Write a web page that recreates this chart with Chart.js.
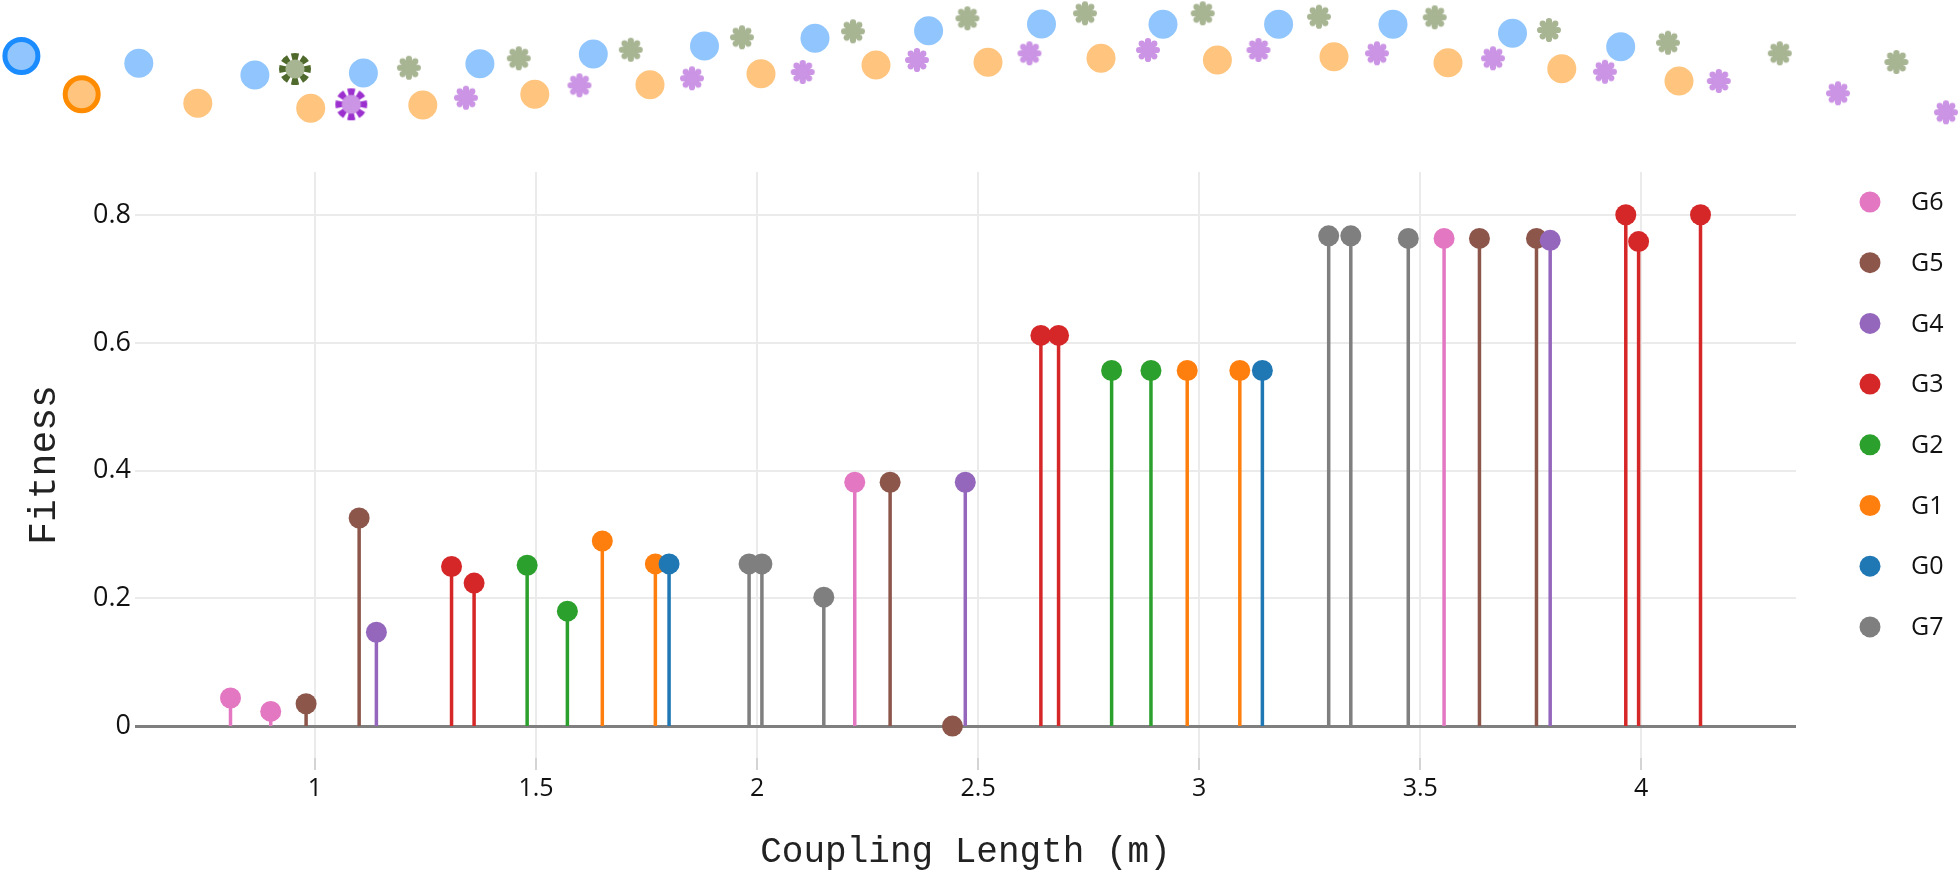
<!DOCTYPE html>
<html>
<head>
<meta charset="utf-8">
<script src="https://cdn.jsdelivr.net/npm/chart.js@4"></script>
<style>
  html, body { margin: 0; padding: 0; background: #fff; }
  #wrap { position: relative; width: 1960px; height: 874px; }
  #main, #deco { position: absolute; left: 0; top: 0; }
</style>
</head>
<body>
<div id="wrap">
  <canvas id="main" width="1960" height="874"></canvas>
  <canvas id="deco" width="1960" height="140"></canvas>
</div>
<script>
// series, in legend order
const names = ["G6", "G5", "G4", "G3", "G2", "G1", "G0", "G7"];
const colors = ["#e377c2", "#8c564b", "#9467bd", "#d62728", "#2ca02c", "#ff7f0e", "#1f77b4", "#7f7f7f"];

const g6x = [0.809, 0.900, 2.221, 3.554];
const g6y = [0.044, 0.023, 0.382, 0.764];
const g5x = [0.980, 1.100, 2.301, 2.442, 3.634, 3.763];
const g5y = [0.035, 0.326, 0.382, 0, 0.764, 0.764];
const g4x = [1.139, 2.471, 3.794];
const g4y = [0.147, 0.382, 0.761];
const g3x = [1.309, 1.360, 2.642, 2.682, 3.965, 3.994, 4.134];
const g3y = [0.250, 0.224, 0.612, 0.612, 0.801, 0.759, 0.801];
const g2x = [1.480, 1.571, 2.802, 2.891];
const g2y = [0.252, 0.180, 0.557, 0.557];
const g1x = [1.650, 1.770, 2.973, 3.092];
const g1y = [0.290, 0.254, 0.557, 0.557];
const g0x = [1.801, 3.143];
const g0y = [0.254, 0.557];
const g7x = [1.982, 2.011, 2.151, 3.293, 3.343, 3.473];
const g7y = [0.254, 0.254, 0.202, 0.768, 0.768, 0.764];

const xTicks = [1, 1.5, 2, 2.5, 3, 3.5, 4];
const yTicks = [0, 0.2, 0.4, 0.6, 0.8];

// decorative strip above the plot
const blueX = [138.8, 254.9, 363.4, 479.9, 593.3, 704.5, 815, 928.6, 1041.5, 1163, 1278.6, 1393, 1512.5, 1620.7];
const blueY = [63.3, 75, 73, 63.7, 54, 46, 38.3, 30.7, 24, 24.3, 24.3, 24.3, 33.3, 46.7];
const orangeX = [197.8, 310.7, 422.8, 534.8, 650, 761, 876, 988, 1101, 1217.4, 1334, 1448, 1561.8, 1679];
const orangeY = [103.3, 108.3, 105, 94.3, 84.7, 73.7, 65, 62.3, 58.3, 60, 56.7, 62.7, 68.7, 81];
const greenX = [408.9, 518.8, 630.8, 742, 853, 967.4, 1085, 1202.7, 1319, 1434.7, 1549, 1668, 1779.8, 1896.4];
const greenY = [67.7, 58.3, 49.7, 37.3, 31.3, 18.3, 13.3, 13.3, 16.7, 17.3, 30, 42.7, 53.3, 62];
const purpleX = [466, 579.5, 692, 802.7, 917, 1029.5, 1148, 1258.5, 1377, 1493, 1605, 1718.8, 1838, 1946];
const purpleY = [97.7, 85.3, 78.3, 72, 60, 53.3, 50, 50, 53.3, 58.3, 71.7, 81, 93.3, 112.3];
const leadBlue = [21.4, 56];
const leadOrange = [81.7, 94.3];
const leadGreen = [295, 69];
const leadPurple = [351.3, 104.3];

const seriesX = [g6x, g5x, g4x, g3x, g2x, g1x, g0x, g7x];
const seriesY = [g6y, g5y, g4y, g3y, g2y, g1y, g0y, g7y];

// each value becomes base point, top point, gap -> a stem
function stems(xs, ys) {
  const out = [];
  xs.forEach((x, i) => {
    out.push({ x, y: 0 }, { x, y: ys[i] }, { x, y: null });
  });
  return out;
}

const datasets = names.map((n, i) => ({
  label: n,
  data: stems(seriesX[i], seriesY[i]),
  showLine: true,
  spanGaps: false,
  borderColor: colors[i],
  backgroundColor: colors[i],
  borderWidth: 3.5,
  pointBorderWidth: 0,
  pointRadius: c => c.dataIndex % 3 === 1 ? 10.5 : 0,
  pointHoverRadius: c => c.dataIndex % 3 === 1 ? 10.5 : 0,
  order: names.length - i
}));

const legendPlugin = {
  id: "sideLegend",
  afterDraw(chart) {
    const ctx = chart.ctx;
    ctx.save();
    ctx.font = "25px 'Open Sans'";
    ctx.textBaseline = "middle";
    chart.data.datasets.forEach((d, i) => {
      const y = 202 + i * 60.7;
      ctx.fillStyle = d.backgroundColor;
      ctx.beginPath();
      ctx.arc(1870, y, 10.5, 0, Math.PI * 2);
      ctx.fill();
      ctx.fillStyle = "#111";
      ctx.fillText(d.label, 1911, y + 1);
    });
    ctx.restore();
  }
};

new Chart(document.getElementById("main"), {
  type: "scatter",
  data: { datasets },
  options: {
    responsive: false,
    animation: false,
    events: [],
    layout: { padding: { left: 0, right: 164, top: 172, bottom: 0 } },
    plugins: { legend: { display: false }, tooltip: { enabled: false } },
    scales: {
      x: {
        type: "linear",
        min: 0.593,
        max: 4.35,
        afterBuildTicks: s => { s.ticks = xTicks.map(v => ({ value: v })); },
        afterFit: s => { s.height = 116; },
        border: { display: false },
        grid: { color: "#ebebeb", lineWidth: 2, tickLength: 12, tickColor: "#d4d4d4" },
        ticks: {
          autoSkip: false, maxRotation: 0, padding: 4, color: "#111",
          font: { family: "'Open Sans'", size: 25 },
          callback: v => String(v)
        },
        title: {
          display: true, text: "Coupling Length (m)", color: "#222",
          font: { family: "'Liberation Mono'", size: 36 },
          padding: { top: 0, bottom: 0 }
        }
      },
      y: {
        type: "linear",
        min: -0.05,
        max: 0.868,
        afterBuildTicks: s => { s.ticks = yTicks.map(v => ({ value: v })); },
        afterFit: s => { s.width = 135; },
        border: { display: false },
        grid: {
          drawTicks: false,
          color: c => c.tick && c.tick.value === 0 ? "#7f7f7f" : "#ebebeb",
          lineWidth: c => c.tick && c.tick.value === 0 ? 3 : 2
        },
        ticks: {
          padding: 4, color: "#111",
          font: { family: "'Open Sans'", size: 27 },
          callback: v => String(v)
        },
        title: {
          display: true, text: "Fitness", color: "#222",
          font: { family: "'Liberation Mono'", size: 38 },
          padding: { top: 22, bottom: 0 }
        }
      }
    }
  },
  plugins: [legendPlugin]
});

// point style images for the strip
function cog(fill, r) {
  const c = document.createElement("canvas");
  c.width = c.height = 2 * r + 2;
  const g = c.getContext("2d");
  const m = r + 1;
  g.fillStyle = fill;
  g.beginPath();
  g.arc(m, m, r * 0.68, 0, Math.PI * 2);
  g.fill();
  for (let k = 0; k < 8; k++) {
    const a = k * Math.PI / 4;
    g.beginPath();
    g.arc(m + Math.cos(a) * r * 0.74, m + Math.sin(a) * r * 0.74, r * 0.26, 0, Math.PI * 2);
    g.fill();
  }
  return c;
}
function bigCog(inner, outer, r) {
  const c = document.createElement("canvas");
  c.width = c.height = 2 * r + 2;
  const g = c.getContext("2d");
  const m = r + 1;
  g.fillStyle = outer;
  for (let k = 0; k < 8; k++) {
    const a = k * Math.PI / 4;
    g.beginPath();
    g.arc(m, m, r, a - 0.26, a + 0.26);
    g.arc(m, m, r * 0.45, a + 0.3, a - 0.3, true);
    g.closePath();
    g.fill();
  }
  g.fillStyle = inner;
  g.beginPath();
  g.arc(m, m, r * 0.6, 0, Math.PI * 2);
  g.fill();
  return c;
}

const pts = (xs, ys) => xs.map((x, i) => ({ x, y: ys[i] }));

new Chart(document.getElementById("deco"), {
  type: "scatter",
  data: {
    datasets: [
      { data: pts(blueX, blueY), pointRadius: 14.5, backgroundColor: "#90c6fd", pointBorderWidth: 0 },
      { data: pts(orangeX, orangeY), pointRadius: 14.5, backgroundColor: "#ffc47e", pointBorderWidth: 0 },
      { data: pts(greenX, greenY), pointStyle: cog("#a8b593", 12) },
      { data: pts(purpleX, purpleY), pointStyle: cog("#cb94e4", 12) },
      { data: [{ x: leadBlue[0], y: leadBlue[1] }], pointRadius: 16.5, backgroundColor: "#90c6fd", borderColor: "#1a8cff", pointBorderWidth: 5 },
      { data: [{ x: leadOrange[0], y: leadOrange[1] }], pointRadius: 16.5, backgroundColor: "#ffc47e", borderColor: "#ff8c00", pointBorderWidth: 5 },
      { data: [{ x: leadGreen[0], y: leadGreen[1] }], pointStyle: bigCog("#a8b593", "#4f6a2c", 16) },
      { data: [{ x: leadPurple[0], y: leadPurple[1] }], pointStyle: bigCog("#cb94e4", "#9b30cf", 16) }
    ]
  },
  options: {
    responsive: false,
    animation: false,
    events: [],
    layout: { padding: 0, autoPadding: false },
    plugins: { legend: { display: false }, tooltip: { enabled: false } },
    scales: {
      x: { type: "linear", min: 0, max: 1960, display: false },
      y: { type: "linear", min: 0, max: 140, reverse: true, display: false }
    }
  }
});
</script>
</body>
</html>
